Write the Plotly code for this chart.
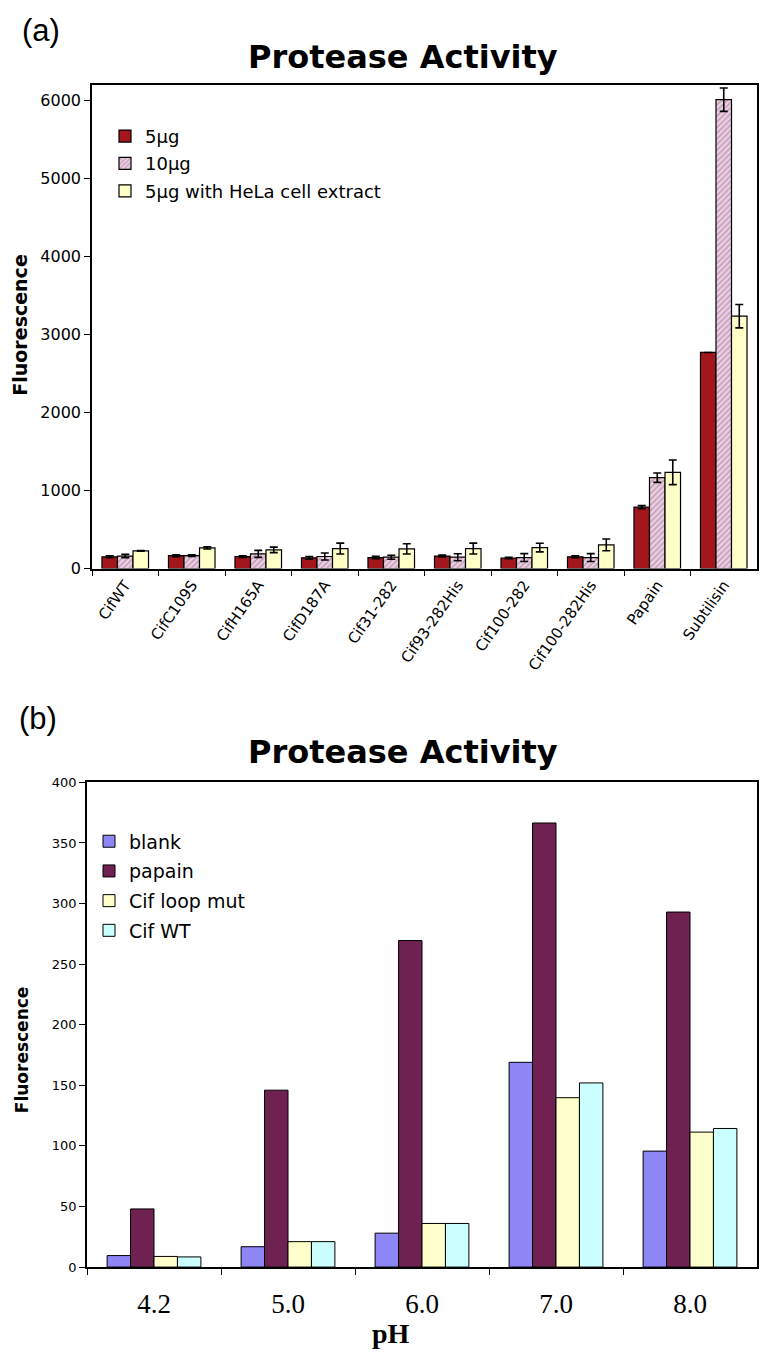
import plotly.graph_objects as go

# page body has an 8px margin; keep the figure inside the 772x1361 window
OFF = 8
W, H = 772 - 2 * OFF, 1361 - 2 * OFF
# vertical placement correction observed on the rendered page
Y0, YS = 14.1, 0.988

# ---------------- Panel (a) data ----------------
cats_a = ["CifWT", "CifC109S", "CifH165A", "CifD187A", "Cif31-282",
          "Cif93-282His", "Cif100-282", "Cif100-282His", "Papain", "Subtilisin"]
s5 = [150, 165, 152, 137, 141, 160, 135, 150, 786, 2770]
s5_err = [12, 12, 10, 18, 15, 12, 10, 12, 20, 0]
s10 = [160, 165, 188, 154, 145, 145, 141, 141, 1165, 6010]
s10_err = [22, 10, 45, 45, 25, 45, 50, 50, 60, 150]
sHela = [226, 265, 239, 256, 252, 256, 269, 303, 1233, 3235]
sHela_err = [5, 15, 35, 70, 65, 70, 55, 75, 158, 150]
names_a = ["5µg", "10µg", "5µg with HeLa cell extract"]
yticks_a = [0, 1000, 2000, 3000, 4000, 5000, 6000]

# ---------------- Panel (b) data ----------------
cats_b = ["4.2", "5.0", "6.0", "7.0", "8.0"]
blank = [9.5, 16.8, 28, 169, 95.7]
papain = [48, 146, 269.5, 366.5, 293]
loopmut = [8.8, 21, 36, 139.8, 111.4]
cifwt = [8.4, 21, 36, 152, 114.4]
names_b = ["blank", "papain", "Cif loop mut", "Cif WT"]
yticks_b = [0, 50, 100, 150, 200, 250, 300, 350, 400]


def px_x(p):
    return (p - OFF) / W


def px_y(p):
    return 1 - ((p - Y0) / YS) / H


VERD = "DejaVu Sans, Verdana, sans-serif"
SERIF = "Liberation Serif, Times New Roman, serif"
fig = go.Figure()

line_blk = dict(color="black", width=1.2)
err_style = dict(type="data", visible=True, color="black", thickness=1.6, width=4)

fig.add_trace(go.Bar(x=cats_a, y=s5, name=names_a[0], xaxis="x", yaxis="y",
                     marker=dict(color="#a3161c", line=line_blk),
                     error_y=dict(array=s5_err, **err_style), legend="legend"))
fig.add_trace(go.Bar(x=cats_a, y=s10, name=names_a[1], xaxis="x", yaxis="y",
                     marker=dict(color="#e5c6da", line=line_blk,
                                 pattern=dict(shape="/", fgcolor="#9c5f8a",
                                              bgcolor="#e9cfe0", size=4, solidity=0.35)),
                     error_y=dict(array=s10_err, **err_style), legend="legend"))
fig.add_trace(go.Bar(x=cats_a, y=sHela, name=names_a[2], xaxis="x", yaxis="y",
                     marker=dict(color="#ffffc8", line=line_blk),
                     error_y=dict(array=sHela_err, **err_style), legend="legend"))

cols_b = ["#8e86f4", "#6f2251", "#ffffcc", "#ccffff"]
for nm, vals, c in zip(names_b, [blank, papain, loopmut, cifwt], cols_b):
    fig.add_trace(go.Bar(x=cats_b, y=vals, name=nm, xaxis="x2", yaxis="y2",
                         marker=dict(color=c, line=dict(color="black", width=1)),
                         legend="legend2"))

axis_common = dict(showline=True, linecolor="black", linewidth=1.6, mirror=True,
                   showgrid=False, zeroline=False, ticks="outside",
                   tickcolor="black", ticklen=6, tickwidth=1.2)

fig.update_layout(
    width=W, height=H,
    margin=dict(l=0, r=0, t=0, b=0),
    paper_bgcolor="white", plot_bgcolor="white",
    barmode="group", bargap=0.3, bargroupgap=0,
    showlegend=True,
    xaxis=dict(domain=[px_x(92), px_x(757)], anchor="y", type="category",
               tickson="boundaries", tickangle=-55,
               tickfont=dict(family=VERD, size=15, color="black"), **axis_common),
    yaxis=dict(domain=[px_y(568), px_y(84)], anchor="x", range=[0, 6200],
               tickvals=yticks_a, tickfont=dict(family=VERD, size=16, color="black"),
               **axis_common),
    xaxis2=dict(domain=[px_x(87), px_x(757)], anchor="y2", type="category",
                tickson="boundaries", tickangle=0, ticklabelstandoff=12,
                tickfont=dict(family=SERIF, size=27, color="black"), **axis_common),
    yaxis2=dict(domain=[px_y(1267), px_y(782)], anchor="x2", range=[0, 400],
                tickvals=yticks_b, tickfont=dict(family=VERD, size=13, color="black"),
                **axis_common),
    legend=dict(x=px_x(105), y=px_y(117), xanchor="left", yanchor="top",
                bgcolor="rgba(0,0,0,0)", font=dict(family=VERD, size=18, color="black"),
                traceorder="grouped", tracegroupgap=1),
    legend2=dict(x=px_x(89), y=px_y(822), xanchor="left", yanchor="top",
                 bgcolor="rgba(0,0,0,0)", font=dict(family=VERD, size=19, color="black"),
                 traceorder="grouped", tracegroupgap=2),
)

# distinct legend groups so tracegroupgap spaces the entries
for i, tr in enumerate(fig.data):
    tr.legendgroup = f"g{i}"

annos = [
    dict(text="(a)", x=px_x(41), y=px_y(30), font=dict(family="Liberation Sans, Arial", size=31)),
    dict(text="<b>Protease Activity</b>", x=px_x(403), y=px_y(56),
         font=dict(family=VERD, size=32)),
    dict(text="<b>Fluorescence</b>", x=px_x(20), y=px_y(325), textangle=-90,
         font=dict(family=VERD, size=19)),
    dict(text="(b)", x=px_x(38), y=px_y(718), font=dict(family="Liberation Sans, Arial", size=31)),
    dict(text="<b>Protease Activity</b>", x=px_x(403), y=px_y(752),
         font=dict(family=VERD, size=32)),
    dict(text="<b>Fluorescence</b>", x=px_x(22), y=px_y(1050), textangle=-90,
         font=dict(family=VERD, size=17)),
    dict(text="<b>pH</b>", x=px_x(391), y=px_y(1333),
         font=dict(family=SERIF, size=28)),
]
for a in annos:
    a.update(xref="paper", yref="paper", showarrow=False, xanchor="center", yanchor="middle")
    a["font"]["color"] = "black"
    fig.add_annotation(**a)

fig.write_html("out.html")
